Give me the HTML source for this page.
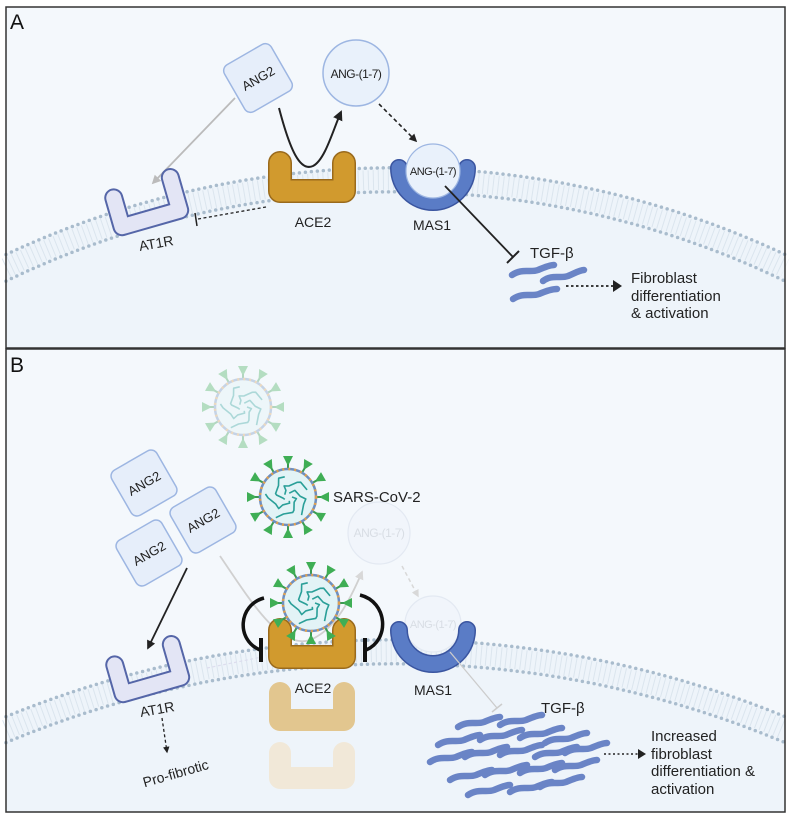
<!DOCTYPE html>
<html><head><meta charset="utf-8"><style>
html,body{margin:0;padding:0;background:#fff;width:791px;height:817px;overflow:hidden;}
svg{display:block;font-family:"Liberation Sans",sans-serif;overflow:hidden;}
</style></head><body>
<svg id="s" width="791" height="817" viewBox="0 0 791 817" xmlns="http://www.w3.org/2000/svg">
<defs>
<marker id="ab" viewBox="0 0 10 10" refX="8" refY="5" markerWidth="5" markerHeight="5" orient="auto"><path d="M0,0 L10,5 L0,10 z" fill="#222"/></marker>
<marker id="ag" viewBox="0 0 10 10" refX="8" refY="5" markerWidth="5" markerHeight="5" orient="auto"><path d="M0,0 L10,5 L0,10 z" fill="#bbb"/></marker>
<marker id="af" viewBox="0 0 10 10" refX="8" refY="5" markerWidth="5" markerHeight="5" orient="auto"><path d="M0,0 L10,5 L0,10 z" fill="#d8d8d8"/></marker>
</defs>

<!-- Panel A -->
<rect x="6" y="7" width="779" height="341" fill="#f4f8fc"/>
<path d="M6,254.5 A918,918 0 0 1 785,254.5 L785,348 L6,348 Z" fill="#eef4fa"/>
<path d="M6,267.8 A906,906 0 0 1 785,267.8" fill="none" stroke="#dbe5ee" stroke-width="20" stroke-dasharray="1 4"/>
<path d="M6,254.5 A918,918 0 0 1 785,254.5" fill="none" stroke="#a9bccd" stroke-width="3.5" stroke-dasharray="0 6" stroke-linecap="round"/>
<path d="M6,281.1 A894,894 0 0 1 785,281.1" fill="none" stroke="#a9bccd" stroke-width="3.5" stroke-dasharray="0 6" stroke-linecap="round"/>
<rect x="6" y="7" width="779" height="341" fill="none" stroke="#333" stroke-width="1.5"/>
<text x="10" y="29" font-size="21" fill="#111">A</text>

<!-- ANG2 A -->
<g transform="translate(258,78) rotate(-30)">
<rect x="-27" y="-27" width="54" height="54" rx="7" fill="#e6eefa" stroke="#9db6e2" stroke-width="1.5"/>
<text x="0" y="5" font-size="13" text-anchor="middle" fill="#222">ANG2</text>
</g>
<circle cx="356" cy="73" r="33" fill="#e9f1fb" stroke="#9db6e2" stroke-width="1.5"/>
<text x="356" y="78" font-size="12" text-anchor="middle" fill="#222" letter-spacing="-0.5">ANG-(1-7)</text>

<line x1="235" y1="98" x2="153" y2="183" stroke="#bbb" stroke-width="1.8" marker-end="url(#ag)"/>
<path d="M279,108 C290,150 300,172 313,166 C325,160 333,130 341,112" fill="none" stroke="#222" stroke-width="2" marker-end="url(#ab)"/>
<line x1="379" y1="104" x2="416" y2="141" stroke="#222" stroke-width="1.6" stroke-dasharray="4 3" marker-end="url(#ab)"/>

<!-- AT1R A -->
<g transform="translate(147,205) rotate(-16)">
<path d="M-30,-16 L-30,14 L30,14 L30,-20" fill="none" stroke="#5566a8" stroke-width="19" stroke-linejoin="round" stroke-linecap="round"/>
<path d="M-30,-16 L-30,14 L30,14 L30,-20" fill="none" stroke="#e3e5f5" stroke-width="15" stroke-linejoin="round" stroke-linecap="round"/>
</g>
<text transform="translate(157,248) rotate(-10)" font-size="14" text-anchor="middle" fill="#222">AT1R</text>

<!-- ACE2 A -->
<path d="M280,163 L280,191 L344,191 L344,163" fill="none" stroke="#9a6a1c" stroke-width="24" stroke-linejoin="round" stroke-linecap="round"/>
<path d="M280,163 L280,191 L344,191 L344,163" fill="none" stroke="#d19a2e" stroke-width="21" stroke-linejoin="round" stroke-linecap="round"/>
<text x="313" y="227" font-size="14" text-anchor="middle" fill="#222">ACE2</text>
<line x1="266" y1="207" x2="198" y2="219" stroke="#222" stroke-width="1.3" stroke-dasharray="3 2.5"/>
<line x1="195" y1="213" x2="197" y2="226" stroke="#222" stroke-width="1.5"/>

<!-- MAS1 A -->
<path d="M399,168 A34 34 0 0 0 467,168" fill="none" stroke="#3a55a0" stroke-width="18" stroke-linecap="round"/>
<path d="M399,168 A34 34 0 0 0 467,168" fill="none" stroke="#5a7cc6" stroke-width="15" stroke-linecap="round"/>
<circle cx="433" cy="171" r="27" fill="#e9f1fb" stroke="#9db6e2" stroke-width="1.2"/>
<text x="433" y="175" font-size="11" text-anchor="middle" fill="#222" letter-spacing="-0.5">ANG-(1-7)</text>
<text x="432" y="230" font-size="14" text-anchor="middle" fill="#222">MAS1</text>
<line x1="445" y1="186" x2="513" y2="257" stroke="#222" stroke-width="1.8"/>
<line x1="507" y1="263" x2="519" y2="251" stroke="#222" stroke-width="2"/>
<text x="530" y="258" font-size="15" fill="#222">TGF-β</text>
<g stroke="#6a84c6" stroke-width="6.5" stroke-linecap="round" fill="none">
<path d="M512,275 C522,268 530,273 538,270 C545,267 550,265 554,265"/>
<path d="M543,281 C552,274 560,279 568,276 C575,273 580,270 584,270"/>
<path d="M513,299 C523,292 531,297 539,294 C546,291 552,289 557,289"/>
</g>
<line x1="566" y1="286" x2="614" y2="286" stroke="#222" stroke-width="1.8" stroke-dasharray="2.5 2.5"/>
<path d="M613,280 L622,286 L613,292 z" fill="#222"/>
<text font-size="15" fill="#222"><tspan x="631" y="283">Fibroblast</tspan><tspan x="631" y="301">differentiation</tspan><tspan x="631" y="318">&amp; activation</tspan></text>

<!-- Panel B -->
<rect x="6" y="349" width="779" height="463" fill="#f4f8fc"/>
<path d="M6,716.6 A1026,1026 0 0 1 785,716.6 L785,812 L6,812 Z" fill="#eef4fa"/>
<path d="M6,729.6 A1014,1014 0 0 1 785,729.6" fill="none" stroke="#dbe5ee" stroke-width="20" stroke-dasharray="1 4"/>
<path d="M6,716.6 A1026,1026 0 0 1 785,716.6" fill="none" stroke="#a9bccd" stroke-width="3.5" stroke-dasharray="0 6" stroke-linecap="round"/>
<path d="M6,742.6 A1002,1002 0 0 1 785,742.6" fill="none" stroke="#a9bccd" stroke-width="3.5" stroke-dasharray="0 6" stroke-linecap="round"/>
<rect x="6" y="349" width="779" height="463" fill="none" stroke="#333" stroke-width="1.5"/>
<text x="10" y="372" font-size="21" fill="#111">B</text>

<g id="viruses"></g>

<!-- ANG2 B -->
<g transform="translate(144,483) rotate(-30)"><rect x="-26" y="-26" width="52" height="52" rx="7" fill="#e6eefa" stroke="#9db6e2" stroke-width="1.5"/><text x="0" y="5" font-size="13" text-anchor="middle" fill="#222">ANG2</text></g>
<g transform="translate(149,553) rotate(-30)"><rect x="-26" y="-26" width="52" height="52" rx="7" fill="#e6eefa" stroke="#9db6e2" stroke-width="1.5"/><text x="0" y="5" font-size="13" text-anchor="middle" fill="#222">ANG2</text></g>
<g transform="translate(203,520) rotate(-30)"><rect x="-26" y="-26" width="52" height="52" rx="7" fill="#e6eefa" stroke="#9db6e2" stroke-width="1.5"/><text x="0" y="5" font-size="13" text-anchor="middle" fill="#222">ANG2</text></g>
<text x="333" y="502" font-size="15" fill="#222">SARS-CoV-2</text>

<circle cx="379" cy="533" r="31" fill="#f1f5fb" stroke="#e3e9f2" stroke-width="1.2"/>
<text x="379" y="537" font-size="12" text-anchor="middle" fill="#d8dde4" letter-spacing="-0.5">ANG-(1-7)</text>
<line x1="402" y1="566" x2="418" y2="596" stroke="#d8d8d8" stroke-width="1.5" stroke-dasharray="4 3" marker-end="url(#af)"/>
<path d="M220,556 C250,600 280,650 310,640 C335,630 350,600 362,572" fill="none" stroke="#d0d0d0" stroke-width="1.8" marker-end="url(#af)"/>
<line x1="187" y1="568" x2="148" y2="648" stroke="#222" stroke-width="1.8" marker-end="url(#ab)"/>

<!-- faded ACE2 copies -->
<path d="M280,693 L280,720 L344,720 L344,693" fill="none" stroke="#e2c68f" stroke-width="22" stroke-linejoin="round" stroke-linecap="round"/>
<path d="M280,753 L280,778 L344,778 L344,753" fill="none" stroke="#f1e8d8" stroke-width="22" stroke-linejoin="round" stroke-linecap="round"/>

<!-- AT1R B -->
<g transform="translate(148,672) rotate(-16)">
<path d="M-30,-16 L-30,14 L30,14 L30,-20" fill="none" stroke="#5566a8" stroke-width="19" stroke-linejoin="round" stroke-linecap="round"/>
<path d="M-30,-16 L-30,14 L30,14 L30,-20" fill="none" stroke="#e3e5f5" stroke-width="15" stroke-linejoin="round" stroke-linecap="round"/>
</g>
<text transform="translate(158,714) rotate(-10)" font-size="14" text-anchor="middle" fill="#222">AT1R</text>
<line x1="162" y1="718" x2="167" y2="752" stroke="#222" stroke-width="1.3" stroke-dasharray="3 2.5" marker-end="url(#ab)"/>
<text transform="translate(177,778) rotate(-16)" font-size="14" text-anchor="middle" fill="#222">Pro-fibrotic</text>
<line x1="207" y1="668" x2="262" y2="657" stroke="#dde" stroke-width="1.2" stroke-dasharray="3 2.5"/>

<!-- ACE2 B -->
<path d="M280,630 L280,657 L344,657 L344,630" fill="none" stroke="#9a6a1c" stroke-width="24" stroke-linejoin="round" stroke-linecap="round"/>
<path d="M280,630 L280,657 L344,657 L344,630" fill="none" stroke="#d19a2e" stroke-width="21" stroke-linejoin="round" stroke-linecap="round"/>
<text x="313" y="693" font-size="14" text-anchor="middle" fill="#222">ACE2</text>

<g id="boundv"></g>

<!-- inhibition arcs -->
<path d="M264,598 C238,605 236,640 260,650" fill="none" stroke="#111" stroke-width="3.5"/>
<line x1="261" y1="638" x2="261" y2="662" stroke="#111" stroke-width="4"/>
<path d="M360,595 C388,602 390,640 366,650" fill="none" stroke="#111" stroke-width="3.5"/>
<line x1="365" y1="638" x2="365" y2="662" stroke="#111" stroke-width="4"/>

<!-- MAS1 B -->
<circle cx="433" cy="624" r="28" fill="#f1f5fb" stroke="#e3e9f2" stroke-width="1.2"/>
<text x="433" y="628" font-size="11" text-anchor="middle" fill="#d8dde4" letter-spacing="-0.5">ANG-(1-7)</text>
<path d="M399,630 A34 34 0 0 0 467,630" fill="none" stroke="#3a55a0" stroke-width="18" stroke-linecap="round"/>
<path d="M399,630 A34 34 0 0 0 467,630" fill="none" stroke="#5a7cc6" stroke-width="15" stroke-linecap="round"/>
<text x="433" y="695" font-size="14" text-anchor="middle" fill="#222">MAS1</text>
<line x1="450" y1="652" x2="497" y2="708" stroke="#ccc" stroke-width="1.3"/>
<line x1="492" y1="712" x2="502" y2="704" stroke="#ccc" stroke-width="1.5"/>
<text x="541" y="713" font-size="15" fill="#222">TGF-β</text>
<g id="wB" stroke="#6a84c6" stroke-width="6.5" stroke-linecap="round" fill="none"></g>
<line x1="604" y1="754" x2="638" y2="754" stroke="#222" stroke-width="1.6" stroke-dasharray="2 2.5"/>
<path d="M638,749 L646,754 L638,759 z" fill="#222"/>
<text font-size="15" fill="#222"><tspan x="651" y="741">Increased</tspan><tspan x="651" y="759">fibroblast</tspan><tspan x="651" y="776">differentiation &amp;</tspan><tspan x="651" y="794">activation</tspan></text>

<script>
(function(){
var NS="http://www.w3.org/2000/svg";
function el(p,t,a){var e=document.createElementNS(NS,t);for(var k in a)e.setAttribute(k,a[k]);p.appendChild(e);return e;}
function virus(parent,cx,cy,op){
 var g=el(parent,"g",{opacity:op});
 for(var i=0;i<12;i++){var a=i*30*Math.PI/180;
  var x1=cx+Math.cos(a)*27,y1=cy+Math.sin(a)*27,x2=cx+Math.cos(a)*35,y2=cy+Math.sin(a)*35;
  el(g,"line",{x1:x1,y1:y1,x2:x2,y2:y2,stroke:"#3a9a52","stroke-width":2});
  var gg=el(g,"g",{transform:"translate("+(cx+Math.cos(a)*37)+","+(cy+Math.sin(a)*37)+") rotate("+(i*30+90)+")"});
  el(gg,"path",{d:"M-5,-4 L5,-4 L1,4 L-1,4 z",fill:"#3fae55"});
 }
 el(g,"circle",{cx:cx,cy:cy,r:28,fill:"#e2f3f6",stroke:"#6f8fc0","stroke-width":2.5});
 el(g,"circle",{cx:cx,cy:cy,r:28,fill:"none",stroke:"#e0a050","stroke-width":2.5,"stroke-dasharray":"2 4"});
 var d="";
 for(var j=0;j<5;j++){var b=j*72*Math.PI/180;
  var px=cx+Math.cos(b)*4,py=cy+Math.sin(b)*4;d+="M"+px+","+py;
  for(var k=1;k<=6;k++){var r=4+k*3,c=b+k*0.35;d+=" L"+(cx+Math.cos(c)*r+Math.sin(k*2)*2)+","+(cy+Math.sin(c)*r+Math.cos(k*2)*2);}
 }
 el(g,"path",{d:d,fill:"none",stroke:"#2a9f98","stroke-width":1.6,"stroke-linejoin":"round"});
}
virus(document.getElementById("viruses"),243,407,0.35);
virus(document.getElementById("viruses"),288,497,1);
virus(document.getElementById("boundv"),311,603,1);
var w=document.getElementById("wB");
var ws=[[478,722],[520,720],[458,740],[500,735],[540,733],[565,738],[450,757],[485,752],[520,750],[555,752],[585,748],[470,775],[505,770],[540,768],[575,765],[488,790],[530,787],[560,782]];
ws.forEach(function(p){var x=p[0],y=p[1];
 el(w,"path",{d:"M"+(x-20)+","+(y+5)+" C"+(x-10)+","+(y-2)+" "+(x-2)+","+(y+3)+" "+(x+6)+","+y+" C"+(x+13)+","+(y-3)+" "+(x+18)+","+(y-5)+" "+(x+22)+","+(y-5)});
});
})();
</script>
</svg>
</body></html>
